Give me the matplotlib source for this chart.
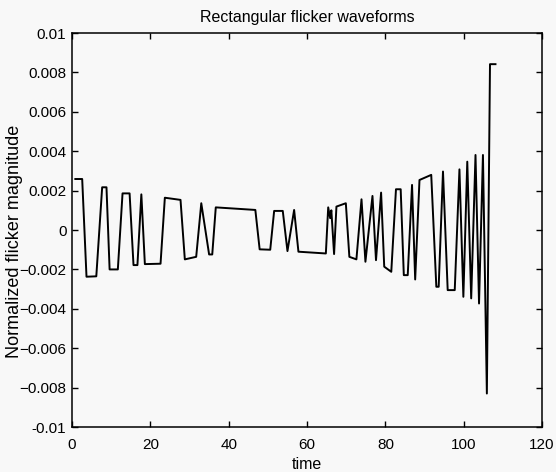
import matplotlib.pyplot as plt
import numpy as np

plt.rcParams['font.family'] = ['Liberation Sans', 'DejaVu Sans']

# waveform vertices (time, normalized magnitude)
t = [0.85, 2.6, 3.7, 6.2, 7.7, 8.8, 9.6, 11.7, 12.9, 14.7, 15.7, 16.7, 17.7, 18.6,
     22.6, 23.7, 27.7, 28.8, 31.7, 33.0, 35.0, 35.8, 36.7, 46.8, 47.9, 50.6, 51.6,
     53.8, 55.0, 56.7, 57.8, 64.8, 65.4, 65.9, 66.2, 66.9, 67.5, 69.9, 70.8, 72.6,
     73.9, 74.9, 76.7, 77.6, 78.9, 79.7, 81.5, 82.7, 83.9, 84.7, 85.7, 86.8, 87.6,
     88.7, 91.7, 93.0, 93.6, 94.7, 95.9, 97.7, 98.9, 99.9, 100.9, 101.9, 103.0,
     103.9, 104.9, 105.9, 106.7, 108.1]
v = [0.00259, 0.00259, -0.00237, -0.00235, 0.00217, 0.00217, -0.00200, -0.00200,
     0.00186, 0.00186, -0.00178, -0.00178, 0.00181, -0.00173, -0.00171, 0.00164,
     0.00153, -0.00149, -0.00136, 0.00136, -0.00124, -0.00124, 0.00115, 0.00102,
     -0.00098, -0.00100, 0.00097, 0.00097, -0.00107, 0.00102, -0.00110, -0.00119,
     0.00115, 0.00060, 0.00100, -0.00122, 0.00119, 0.00136, -0.00136, -0.00149,
     0.00156, -0.00161, 0.00173, -0.00153, 0.00190, -0.00186, -0.00212, 0.00207,
     0.00207, -0.00229, -0.00229, 0.00229, -0.00251, 0.00254, 0.00280, -0.00288,
     -0.00288, 0.00297, -0.00305, -0.00305, 0.00308, -0.00339, 0.00347, -0.00347,
     0.00381, -0.00373, 0.00381, -0.00830, 0.00842, 0.00842]

xticks = [0, 20, 40, 60, 80, 100, 120]
yticks = [0.01, 0.008, 0.006, 0.004, 0.002, 0, -0.002, -0.004, -0.006, -0.008, -0.01]
ylabels = ['0.01', '0.008', '0.006', '0.004', '0.002', '0',
           '\u22120.002', '\u22120.004', '\u22120.006', '\u22120.008', '-0.01']

bg = '#f8f8f8'
fig = plt.figure(figsize=(5.56, 4.72), dpi=100, facecolor=bg)
ax = fig.add_axes([0.1295, 0.0953, 0.8455, 0.8347], facecolor=bg)

ax.plot(t, v, color='black', lw=1.4)

ax.set_xlim(0, 120)
ax.set_ylim(-0.01, 0.01)
ax.set_xticks(xticks)
ax.set_yticks(yticks)
ax.set_yticklabels(ylabels)

ax.tick_params(direction='in', top=True, right=True, length=4, width=1,
               labelsize=11)
ax.tick_params(axis='x', pad=8)
ax.tick_params(axis='y', pad=4)
for s in ax.spines.values():
    s.set_linewidth(1.1)

ax.set_title('Rectangular flicker waveforms', fontsize=11.5, pad=8)
ax.set_xlabel('time', fontsize=11.5)
ax.set_ylabel('Normalized flicker magnitude', fontsize=13)
ax.xaxis.set_label_coords(0.5, -0.075)
ax.yaxis.set_label_coords(-0.104, 0.47)

fig.savefig('out.png', dpi=100, facecolor=bg)
